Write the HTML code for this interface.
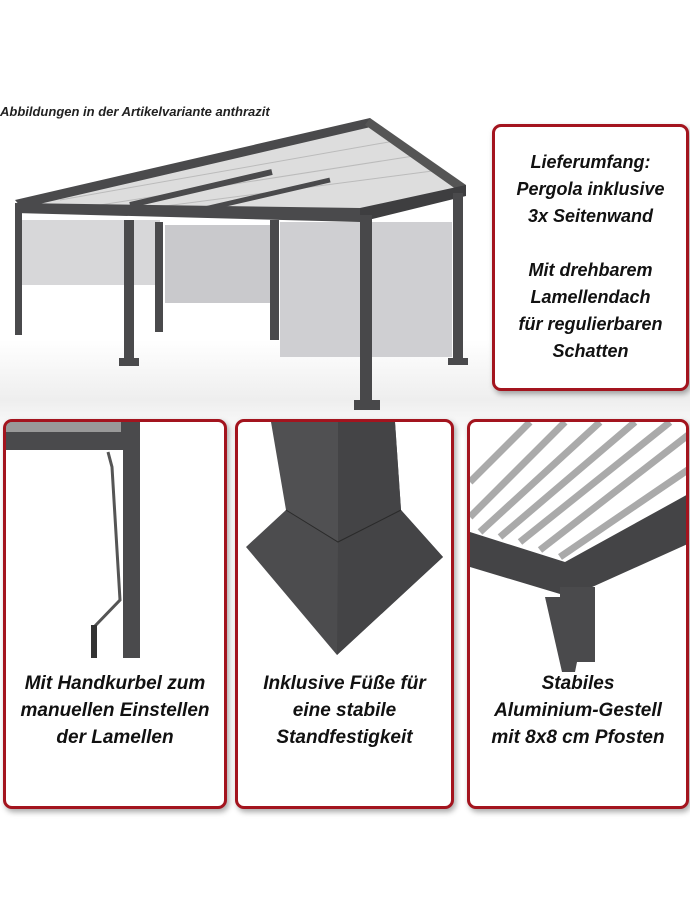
<!DOCTYPE html>
<html><head><meta charset="utf-8"><style>
body{margin:0;width:690px;height:920px;background:#fff;position:relative;overflow:hidden;font-family:"Liberation Sans",sans-serif}
.box{position:absolute;border:3px solid #a3141e;border-radius:9px;background:#fff;box-shadow:2px 3px 6px rgba(0,0,0,.35);box-sizing:border-box;overflow:hidden}
.t{position:absolute;left:0;right:0;text-align:center;font-style:italic;font-weight:bold;color:#111;font-size:19px;line-height:27px}
</style></head><body>
<div style="position:absolute;left:0;top:340px;width:690px;height:100px;background:linear-gradient(#fff,#eee 60%,#fff)"></div>
<div style="position:absolute;left:0;top:104px;font-size:13px;font-style:italic;font-weight:bold;color:#222">Abbildungen in der Artikelvariante anthrazit</div>
<svg style="position:absolute;left:0;top:0" width="480" height="420">
<polygon points="15,203 370,120 465,188 360,212 25,210" fill="#ddd"/>
<g stroke="#bbb" stroke-width="1">
<line x1="60" y1="200" x2="400" y2="140"/><line x1="100" y1="205" x2="420" y2="155"/><line x1="150" y1="208" x2="440" y2="170"/>
</g>
<polygon points="15,200 370,118 375,126 22,208" fill="#4a4a4c"/>
<polygon points="370,118 466,185 460,192 365,125" fill="#555"/>
<polygon points="15,203 360,208 360,222 15,213" fill="#4a4a4c"/>
<polygon points="360,208 466,185 466,196 360,222" fill="#3e3e40"/>
<line x1="130" y1="205" x2="272" y2="172" stroke="#4a4a4c" stroke-width="6"/>
<line x1="200" y1="210" x2="330" y2="180" stroke="#4a4a4c" stroke-width="5"/>
<rect x="165" y="225" width="108" height="78" fill="#c9c9cc"/>
<rect x="280" y="222" width="172" height="135" fill="#cfcfd2"/>
<rect x="20" y="220" width="140" height="65" fill="#c6c6c9" opacity=".7"/>
<rect x="15" y="205" width="7" height="130" fill="#4a4a4c"/>
<rect x="124" y="220" width="10" height="140" fill="#4a4a4c"/><rect x="119" y="358" width="20" height="8" fill="#4a4a4c"/>
<rect x="155" y="222" width="8" height="110" fill="#4a4a4c"/>
<rect x="270" y="220" width="9" height="120" fill="#4a4a4c"/>
<rect x="453" y="193" width="10" height="168" fill="#4a4a4c"/><rect x="448" y="358" width="20" height="7" fill="#4a4a4c"/>
<rect x="360" y="215" width="12" height="188" fill="#48484a"/><rect x="354" y="400" width="26" height="10" fill="#48484a"/>
</svg>
<div class="box" style="left:492px;top:124px;width:197px;height:267px">
<div class="t" style="top:22px;font-size:18px">Lieferumfang:<br>Pergola inklusive<br>3x Seitenwand<br><br>Mit drehbarem<br>Lamellendach<br>für regulierbaren<br>Schatten</div></div>

<div class="box" style="left:3px;top:419px;width:224px;height:390px">
<svg width="224" height="250" style="position:absolute;left:0;top:0">
<rect x="0" y="0" width="134" height="28" fill="#4a4a4c"/><rect x="0" y="0" width="115" height="10" fill="#999"/>
<rect x="117" y="0" width="17" height="236" fill="#4a4a4c"/>
<polyline points="102,30 106,45 114,178 88,205" fill="none" stroke="#555" stroke-width="3"/>
<rect x="85" y="203" width="6" height="33" fill="#333"/>
</svg>
<div class="t" style="top:248px">Mit Handkurbel zum<br>manuellen Einstellen<br>der Lamellen</div></div>

<div class="box" style="left:235px;top:419px;width:219px;height:390px">
<svg width="219" height="250" style="position:absolute;left:0;top:0">
<polygon points="33,0 157,0 163,88 100,120 48,88" fill="#505052"/>
<polygon points="100,0 157,0 163,88 100,120" fill="#444446"/>
<polygon points="8,125 48,88 100,120 163,88 205,135 99,233" fill="#4c4c4e"/>
<polygon points="100,120 163,88 205,135 99,233" fill="#444446"/>
<polyline points="48,88 100,120 163,88" fill="none" stroke="#2a2a2a" stroke-width="1"/>
</svg>
<div class="t" style="top:248px">Inklusive Füße für<br>eine stabile<br>Standfestigkeit</div></div>

<div class="box" style="left:467px;top:419px;width:222px;height:390px">
<svg width="222" height="250" style="position:absolute;left:0;top:0">
<g stroke="#aaa" stroke-width="7"><line x1="0" y1="60" x2="60" y2="0"/><line x1="0" y1="95" x2="95" y2="0"/><line x1="10" y1="110" x2="130" y2="0"/><line x1="30" y1="115" x2="165" y2="0"/><line x1="50" y1="120" x2="200" y2="0"/><line x1="70" y1="128" x2="222" y2="10"/><line x1="90" y1="135" x2="222" y2="45"/></g>
<polygon points="0,110 95,140 222,70 222,120 100,175 0,145" fill="#444446"/>
<polygon points="75,175 120,175 105,250 92,250" fill="#4a4a4c"/>
<rect x="90" y="165" width="35" height="75" fill="#4a4a4c"/>
</svg>
<div class="t" style="top:248px">Stabiles<br>Aluminium-Gestell<br>mit 8x8 cm Pfosten</div></div>
</body></html>
